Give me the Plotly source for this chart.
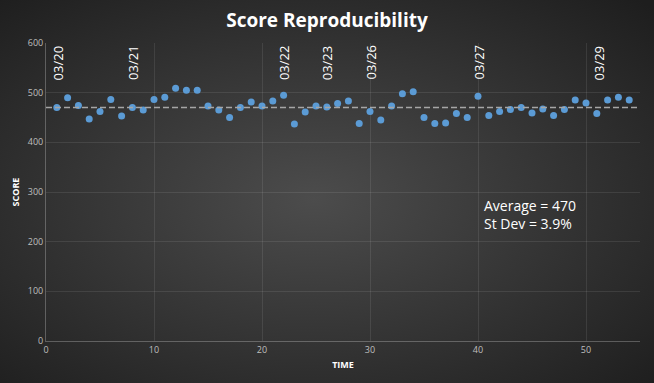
import plotly.graph_objects as go
import base64

time = list(range(1, 55))
score = [470, 490, 474, 447, 462, 486, 453, 470, 465, 486,
         491, 509, 505, 505, 473, 465, 450, 470, 481, 473,
         483, 495, 437, 461, 473, 471, 478, 483, 438, 462,
         445, 473, 498, 502, 450, 438, 439, 458, 450, 493,
         454, 462, 466, 470, 459, 467, 454, 466, 485, 479,
         458, 485, 491, 485]
average = 470
date_labels = ["03/20", "03/21", "03/22", "03/23", "03/26", "03/27", "03/29"]
date_pos = [1.1, 8, 22, 26, 30, 40, 51.2]
stats_text = ["Average = 470", "St Dev = 3.9%"]

W, H = 654, 383
ml, mr, mt, mb = 46, 14, 43, 42
pw, ph = W - ml - mr, H - mt - mb

svg = f'''<svg xmlns="http://www.w3.org/2000/svg" width="{W}" height="{H}" viewBox="0 0 {W} {H}" preserveAspectRatio="none">
<defs><radialGradient id="g" cx="48%" cy="52%" r="72%">
<stop offset="0%" stop-color="#4c4c4c"/><stop offset="100%" stop-color="#1e1e1e"/></radialGradient></defs>
<rect width="{W}" height="{H}" fill="url(#g)"/></svg>'''
src = "data:image/svg+xml;base64," + base64.b64encode(svg.encode()).decode()

fig = go.Figure()
fig.add_trace(go.Scatter(x=time, y=score, mode="markers",
                         marker=dict(color="#5b9bd5", size=7), showlegend=False))

fig.add_shape(type="line", xref="x", yref="y", x0=0, x1=55, y0=average, y1=average,
              line=dict(color="#a6a6a6", width=1.5, dash="6px,3px"))

for lbl, p in zip(date_labels, date_pos):
    fig.add_annotation(x=p, y=600, xref="x", yref="y", text=lbl, textangle=-90,
                       showarrow=False, xanchor="center", yanchor="top",
                       font=dict(color="white", size=13, family="Open Sans"))

fig.add_annotation(x=(482 - ml) / pw, y=1 - (194 - mt) / ph, xref="paper", yref="paper",
                   text="<br>".join(stats_text),
                   showarrow=False, xanchor="left", yanchor="top", align="left",
                   font=dict(color="white", size=14, family="Open Sans"))

fig.add_layout_image(dict(source=src, xref="paper", yref="paper",
                          x=-ml / pw, y=1 + mt / ph, sizex=W / pw, sizey=H / ph,
                          xanchor="left", yanchor="top", sizing="stretch", layer="below"))

grid = "rgba(255,255,255,0.09)"
axl = "rgba(255,255,255,0.25)"
fig.update_layout(
    width=W, height=H,
    margin=dict(l=ml, r=mr, t=mt, b=mb),
    paper_bgcolor="#2e2e2e", plot_bgcolor="rgba(0,0,0,0)",
    title=dict(text="<b>Score Reproducibility</b>", x=0.5, xanchor="center",
               y=1 - 20 / H, yanchor="middle", yref="container",
               font=dict(color="white", size=19, family="Open Sans")),
    xaxis=dict(range=[0, 55], tickvals=[0, 10, 20, 30, 40, 50], showgrid=True,
               gridcolor=grid, gridwidth=1, zeroline=False, automargin=False,
               showline=True, linecolor=axl, linewidth=1, ticks="",
               tickfont=dict(color="#bfbfbf", size=9, family="Open Sans"),
               title=dict(text="<b>TIME</b>", font=dict(color="white", size=9, family="Open Sans"), standoff=6)),
    yaxis=dict(range=[0, 600], tickvals=[0, 100, 200, 300, 400, 500, 600], showgrid=True,
               gridcolor=grid, gridwidth=1, zeroline=False, automargin=False,
               showline=True, linecolor=axl, linewidth=1, ticks="",
               tickfont=dict(color="#bfbfbf", size=9, family="Open Sans"),
               title=dict(text="<b>SCORE</b>", font=dict(color="white", size=9, family="Open Sans"), standoff=6)),
)

fig.write_html("out.html", config={"displayModeBar": False},
               post_script="document.body.style.margin='0';document.body.style.overflow='hidden';")
